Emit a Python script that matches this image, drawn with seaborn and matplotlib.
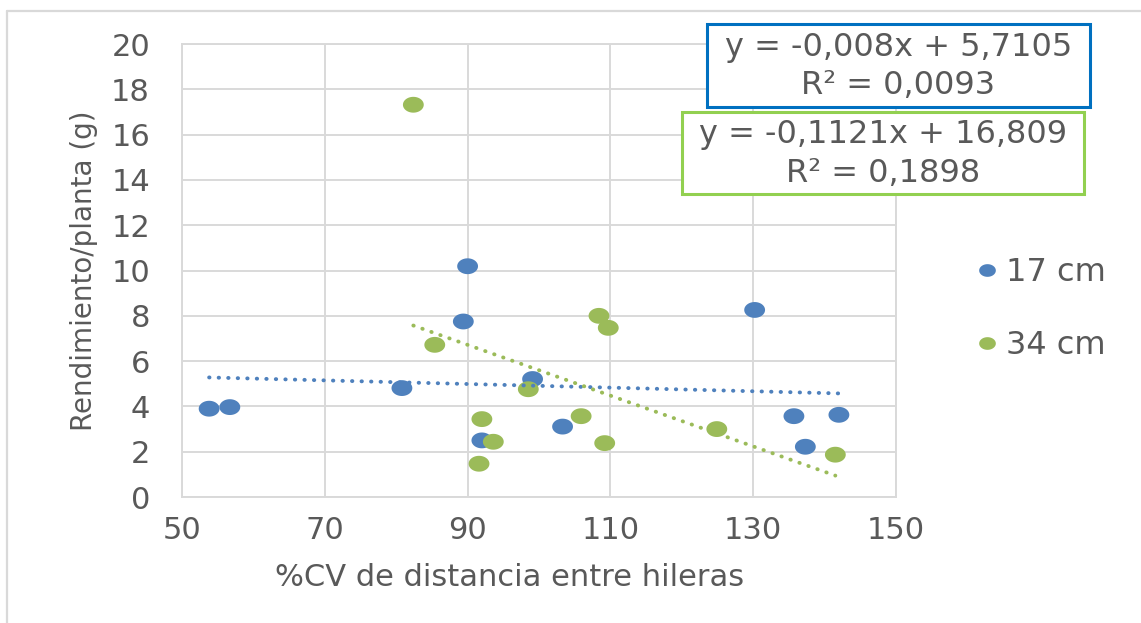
import numpy as np
import pandas as pd
import matplotlib
matplotlib.use("Agg")
import matplotlib.pyplot as plt
from matplotlib.path import Path
from matplotlib.lines import Line2D
from matplotlib.patches import Rectangle
import seaborn as sns

# Rendimiento por planta frente al %CV de distancia entre hileras
cv_17 = [53.8, 56.7, 80.8, 90.0, 89.4, 99.1, 92.0, 103.3, 130.2, 135.7, 137.3, 142.0]
rend_17 = [3.90, 3.97, 4.81, 10.19, 7.75, 5.21, 2.50, 3.11, 8.26, 3.57, 2.22, 3.63]
cv_34 = [82.4, 85.4, 98.5, 92.0, 93.6, 91.6, 108.4, 109.7, 105.9, 109.2, 124.9, 141.5]
rend_34 = [17.32, 6.72, 4.76, 3.44, 2.44, 1.47, 8.00, 7.47, 3.57, 2.38, 3.00, 1.87]

series = ["17 cm", "34 cm"]
slopes = [-0.008, -0.1121]
intercepts = [5.7105, 16.809]
r2_values = [0.0093, 0.1898]

x_ticks = [50, 70, 90, 110, 130, 150]
y_ticks = [0, 2, 4, 6, 8, 10, 12, 14, 16, 18, 20]
x_label = "%CV de distancia entre hileras"
y_label = "Rendimiento/planta (g)"

point_colors = ["#4F81BD", "#9BBB59"]
box_colors = ["#0070C0", "#92D050"]
text_color = "#595959"
grid_color = "#D9D9D9"

sns.set_theme(style="white")
plt.rcParams["font.family"] = ["DejaVu Sans"]

df = pd.DataFrame({
    "cv": cv_17 + cv_34,
    "rend": rend_17 + rend_34,
    "serie": [series[0]] * len(cv_17) + [series[1]] * len(cv_34),
})

# linear trend over each series' x range
trend_rows = []
for name, xs, m, b in zip(series, [cv_17, cv_34], slopes, intercepts):
    for xv in (min(xs), max(xs)):
        trend_rows.append({"cv": xv, "fit": m * xv + b, "serie": name})
trend = pd.DataFrame(trend_rows)

# slightly wide oval marker
theta = np.linspace(0, 2 * np.pi, 60)
oval = Path(np.column_stack([np.cos(theta), 0.76 * np.sin(theta)]), closed=True)

fig = plt.figure(figsize=(11.41, 6.23), dpi=100)
ax = fig.add_axes([0.1595, 0.2022, 0.6258, 0.7271])

palette = dict(zip(series, point_colors))
sns.scatterplot(data=df, x="cv", y="rend", hue="serie", palette=palette,
                marker=oval, s=225, linewidth=0, edgecolor="none",
                legend=False, ax=ax, zorder=3)
sns.lineplot(data=trend, x="cv", y="fit", hue="serie", palette=palette,
             linewidth=2.8, linestyle=(0, (0.1, 2.35)), dash_capstyle="round",
             errorbar=None, legend=False, ax=ax, zorder=4)

ax.set_xlim(50, 150)
ax.set_ylim(0, 20)
ax.set_xticks(x_ticks)
ax.set_yticks(y_ticks)
ax.grid(True, color=grid_color, linewidth=1.4)
ax.set_axisbelow(True)
for sp in ax.spines.values():
    sp.set_color(grid_color)
    sp.set_linewidth(1.4)
ax.tick_params(axis="both", length=0, labelsize=22, labelcolor=text_color)
ax.tick_params(axis="y", pad=23)
ax.tick_params(axis="x", pad=14)

ax.set_xlabel(x_label, fontsize=22, color=text_color)
ax.set_ylabel(y_label, fontsize=20, color=text_color)
ax.xaxis.set_label_coords(0.459, -0.146)
ax.yaxis.set_label_coords(-0.118, 0.5)

# equation boxes (figure pixel layout)
W, H = 1141, 623
boxes = [(707, 24, 1090, 107), (682, 112, 1084, 194)]


def fmt(v):
    return str(v).replace(".", ",")


for (x0, y0, x1, y1), m, b, r2, ec in zip(boxes, slopes, intercepts, r2_values, box_colors):
    fig.add_artist(Rectangle((x0 / W, 1 - y1 / H), (x1 - x0) / W, (y1 - y0) / H,
                             transform=fig.transFigure, fill=True, fc="white",
                             ec=ec, lw=2.2, zorder=5))
    label = f"y = {fmt(m)}x + {fmt(b)}\nR² = {fmt(r2)}"
    fig.text((x0 + x1) / 2 / W, 1 - (y0 + y1 + 2) / 2 / H, label, ha="center", va="center",
             multialignment="center", fontsize=23, color=text_color,
             linespacing=1.3, zorder=6)

handles = [Line2D([], [], linestyle="none", marker=oval, markersize=12,
                  markerfacecolor=c, markeredgewidth=0) for c in point_colors]
fig.legend(handles, series, loc="center left", bbox_to_anchor=(977 / W, 1 - 309 / H),
           frameon=False, fontsize=23, labelcolor=text_color, handlelength=0.6,
           handletextpad=0.3, borderpad=0, borderaxespad=0, labelspacing=1.3)

# outer frame
fig.add_artist(Line2D([7 / W, 7 / W], [1 - 11 / H, 0], transform=fig.transFigure,
                      color=grid_color, lw=1.6))
fig.add_artist(Line2D([7 / W, 1], [1 - 11 / H, 1 - 11 / H], transform=fig.transFigure,
                      color=grid_color, lw=1.6))

fig.savefig("out.png", dpi=100, facecolor="white")
